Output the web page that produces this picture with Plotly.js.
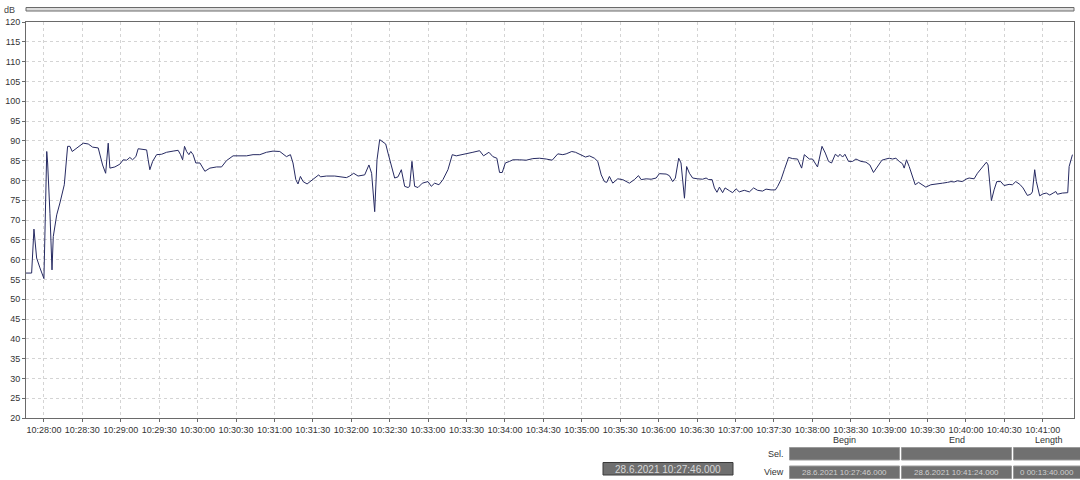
<!DOCTYPE html>
<html>
<head>
<meta charset="utf-8">
<script src="https://cdn.plot.ly/plotly-3.0.1.min.js"></script>
<style>html,body{margin:0;padding:0;background:#fff;}#chart{width:1080px;height:480px;}</style>
</head>
<body>
<div id="chart"></div>
<script>
// seconds after 28.6.2021 10:27:46 (start of the view)
const secondsFromStart = [
0,4.4,6.2,8.3,10.9,14.0,16.2,16.9,18.7,20.3,21.3,24.0,26.5,29.9,32.5,34.3,36.1,39.6,44.7,48.6,
52.0,56.4,57.7,59.8,62.2,63.4,64.2,65.5,69.4,73.3,75.9,78.6,81.1,83.2,85.8,87.6,90.3,94.2,95.4,96.7,
98.9,102.0,105.9,109.8,114.9,118.8,120.7,122.3,123.8,125.4,127.2,128.7,130.5,132.6,135.8,139.7,143.6,148.8,152.7,156.6,
161.7,167.0,172.2,177.3,182.6,187.8,192.9,198.2,203.4,206.5,208.5,210.7,212.4,214.3,216.4,219.5,224.2,228.6,229.9,234.6,
241.1,246.3,250.2,252.8,255.9,259.3,264.5,267.8,269.9,272.3,274.1,276.2,280.9,282.7,285.3,287.9,290.5,293.1,295.7,298.3,
299.6,301.4,303.5,306.1,309.5,312.1,313.9,316.5,319.1,322.5,325.6,329.5,332.9,336.0,341.2,345.1,349.0,354.2,357.3,361.5,
364.6,367.7,369.8,371.9,374.3,377.6,380.2,385.4,390.6,395.8,401.0,406.2,410.9,415.3,419.2,421.8,426.2,429.1,433.6,436.9,
440.0,443.9,446.5,449.2,451.7,453.5,455.6,458.2,462.1,466.0,471.2,475.1,478.3,480.4,484.3,488.2,492.1,494.6,499.9,502.4,
505.0,507.1,509.7,511.5,514.2,515.9,518.1,520.6,524.5,528.4,531.1,533.1,535.8,537.6,539.6,541.5,544.0,545.9,549.3,551.8,
554.5,557.0,560.9,564.9,568.2,571.3,575.2,577.9,581.8,585.2,587.0,589.6,592.2,595.5,598.7,602.5,605.7,607.8,611.7,614.2,
618.1,621.6,624.2,626.7,629.1,632.0,634.3,635.6,637.7,639.5,642.3,645.5,648.1,652.0,655.9,659.0,661.8,664.9,668.4,671.5,
674.1,676.7,679.3,681.9,684.5,685.8,687.6,689.7,692.3,694.4,697.0,700.1,702.7,706.6,710.5,715.7,719.6,722.3,724.8,727.4,
731.3,734.0,736.5,740.4,743.0,746.5,750.0,751.3,753.9,756.0,758.1,761.2,763.8,767.7,770.3,772.9,776.1,778.6,782.0,784.6,
785.9,787.7,789.0,791.6,794.2,796.8,799.5,802.1,804.2,805.4,809.3,813.5,814.6,817.2
];
const levelDb = [
56.6,56.6,67.7,60.4,57.9,55.2,87.3,84.4,71.7,57.4,65.8,71.3,74.3,78.9,88.6,88.6,87.3,88.2,89.4,89.2,
88.4,88.2,86.5,83.9,81.8,86.9,89.4,83.1,83.4,84.1,85.2,85.1,85.8,85.2,86.0,88.0,87.8,87.7,85.2,82.7,
84.8,86.5,86.6,87.1,87.4,87.6,86.5,85.2,88.6,87.3,86.5,87.3,86.5,84.4,84.4,82.3,83.1,83.4,83.4,85.0,
86.2,86.2,86.2,86.5,86.5,87.1,87.4,87.3,86.0,86.5,84.4,80.2,79.1,81.0,79.7,79.1,80.2,81.4,80.9,81.1,
81.1,80.9,80.7,81.1,81.8,81.1,81.4,83.9,81.8,72.1,85.2,90.3,89.2,86.9,83.5,80.6,80.9,82.7,78.5,78.2,
78.5,84.8,78.5,78.2,79.3,79.5,79.7,78.5,79.3,78.9,80.2,82.7,86.5,86.2,86.5,86.9,87.1,87.5,86.2,87.1,
86.0,85.6,82.0,82.0,84.4,84.8,85.2,85.2,85.1,85.5,85.6,85.4,85.1,86.7,86.5,86.7,87.3,87.1,86.3,85.9,
86.2,85.6,84.8,81.4,79.7,79.5,81.0,79.3,80.4,80.2,79.3,80.2,81.2,80.2,80.4,80.3,80.6,81.7,81.6,81.2,
79.7,80.6,85.6,84.4,75.5,83.5,81.8,80.6,80.4,80.3,80.6,80.2,80.2,78.1,77.0,78.3,76.9,78.1,77.4,76.9,
77.9,77.1,77.5,77.1,78.1,77.5,77.3,77.8,77.6,77.6,78.5,80.2,82.7,85.8,85.5,85.4,83.1,86.5,85.4,85.4,
83.4,88.6,86.9,84.8,84.4,86.6,86.0,86.6,85.9,86.6,84.8,84.8,85.4,84.8,84.6,83.9,82.0,83.5,85.1,85.4,
85.6,85.4,85.6,84.8,84.2,83.1,85.2,83.5,80.6,78.9,79.5,78.9,78.3,78.9,79.0,79.3,79.5,79.7,79.6,79.9,
79.7,80.3,80.6,80.4,81.8,83.1,84.6,83.9,74.9,77.6,79.7,79.7,78.7,79.0,78.9,79.7,79.0,78.1,76.2,76.5,
77.1,82.7,79.7,76.1,76.6,76.8,76.3,76.8,77.2,76.5,76.8,76.9,83.5,86.5
];
const viewStartDate = '2021-06-28';
const viewStartTime = [10, 27, 46];
const viewEndSeconds = 818.4;
const yTickVals = [20,25,30,35,40,45,50,55,60,65,70,75,80,85,90,95,100,105,110,115,120];
const panelHeaders = ['Begin', 'End', 'Length'];
const rowLabels = ['Sel.', 'View'];
const viewValues = ['28.6.2021 10:27:46.000', '28.6.2021 10:41:24.000', '0 00:13:40.000'];
const cursorText = '28.6.2021 10:27:46.000';
const unitLabel = 'dB';

function toStamp(s) {
  const base = viewStartTime[0]*3600 + viewStartTime[1]*60 + viewStartTime[2];
  let t = base + s;
  const h = Math.floor(t/3600); t -= h*3600;
  const m = Math.floor(t/60); t -= m*60;
  const sec = t.toFixed(3);
  const p = n => String(n).padStart(2,'0');
  return viewStartDate + ' ' + p(h) + ':' + p(m) + ':' + (sec.length < 6 ? '0' + sec : sec);
}
const xs = secondsFromStart.map(toStamp);

// layout geometry (pixels)
const L = 26, R = 1074, T = 22, B = 418;
const W = 1080, H = 480;
const px = x => (x - L) / (R - L);
const py = y => (B - y) / (B - T);

const FONT = 'Liberation Sans Narrow, Arial Narrow, Liberation Sans, Arial, sans-serif';
const shapes = [];
const annotations = [];

// top double bar
shapes.push({type:'rect', xref:'paper', yref:'paper', x0:px(26), x1:px(1074), y0:py(11), y1:py(7.5),
  fillcolor:'#dcdcdc', line:{color:'#6a6a6a', width:1}});
annotations.push({xref:'paper', yref:'paper', x:px(17), y:py(10), text:unitLabel, showarrow:false,
  xanchor:'right', yanchor:'middle', font:{family:FONT, size:9, color:'#444'}});

// cursor box
shapes.push({type:'rect', xref:'paper', yref:'paper', x0:px(603), x1:px(733), y0:py(475), y1:py(462.5),
  fillcolor:'#6f6f6f', line:{color:'#3a3a3a', width:1}});
annotations.push({xref:'paper', yref:'paper', x:px(668), y:py(469), text:cursorText, showarrow:false,
  xanchor:'center', yanchor:'middle', font:{family:FONT, size:10, color:'#d8d8d8'}});

// panel
const colX = [[789.5, 899.5], [901.5, 1011.5], [1013.5, 1090]];
const rowY = [[447.5, 460], [466, 478.5]];
panelHeaders.forEach((h, i) => {
  const cx = i < 2 ? (colX[i][0] + colX[i][1]) / 2 : 1049;
  annotations.push({xref:'paper', yref:'paper', x:px(cx), y:py(439.5), text:h, showarrow:false,
    xanchor:'center', yanchor:'middle', font:{family:FONT, size:9, color:'#333'}});
});
rowLabels.forEach((r, j) => {
  annotations.push({xref:'paper', yref:'paper', x:px(786), y:py((rowY[j][0]+rowY[j][1])/2), text:r, showarrow:false,
    xanchor:'right', yanchor:'middle', font:{family:FONT, size:9, color:'#333'}});
  colX.forEach((c, i) => {
    shapes.push({type:'rect', xref:'paper', yref:'paper', x0:px(c[0]), x1:px(c[1]), y0:py(rowY[j][1]), y1:py(rowY[j][0]),
      fillcolor:'#707070', line:{color:'#9a9a9a', width:1}});
  });
});
viewValues.forEach((v, i) => {
  const cx = i < 2 ? (colX[i][0] + colX[i][1]) / 2 : 1047;
  annotations.push({xref:'paper', yref:'paper', x:px(cx), y:py((rowY[1][0]+rowY[1][1])/2), text:v, showarrow:false,
    xanchor:'center', yanchor:'middle', font:{family:FONT, size:8, color:'#cfcfcf'}});
});

const trace = {
  x: xs, y: levelDb, type:'scatter', mode:'lines',
  line:{color:'#262a62', width:1}, hoverinfo:'x+y'
};

const layout = {
  width: W, height: H,
  margin:{l:L, r:W-R, t:T, b:H-B, pad:0},
  paper_bgcolor:'#ffffff', plot_bgcolor:'#ffffff',
  showlegend:false,
  xaxis:{
    type:'date', range:[toStamp(0), toStamp(viewEndSeconds)],
    tick0: viewStartDate + ' 10:28:00', dtick:30000, tickformat:'%H:%M:%S',
    showgrid:true, gridcolor:'#d4d4d4', griddash:'dot', gridwidth:1,
    showline:true, linecolor:'#6a6a6a', linewidth:1, mirror:true,
    ticks:'outside', ticklen:3, tickcolor:'#6a6a6a',
    tickfont:{family:FONT, size:9, color:'#333'}, zeroline:false, fixedrange:true
  },
  yaxis:{
    range:[20,120], tickvals:yTickVals, ticktext:yTickVals.map(String),
    showgrid:true, gridcolor:'#d4d4d4', griddash:'dot', gridwidth:1,
    showline:true, linecolor:'#6a6a6a', linewidth:1, mirror:true,
    ticks:'outside', ticklen:3, tickcolor:'#6a6a6a',
    tickfont:{family:FONT, size:9, color:'#333'}, zeroline:false, fixedrange:true
  },
  shapes: shapes,
  annotations: annotations
};

Plotly.newPlot('chart', [trace], layout, {displayModeBar:false, staticPlot:true});
</script>
</body>
</html>
